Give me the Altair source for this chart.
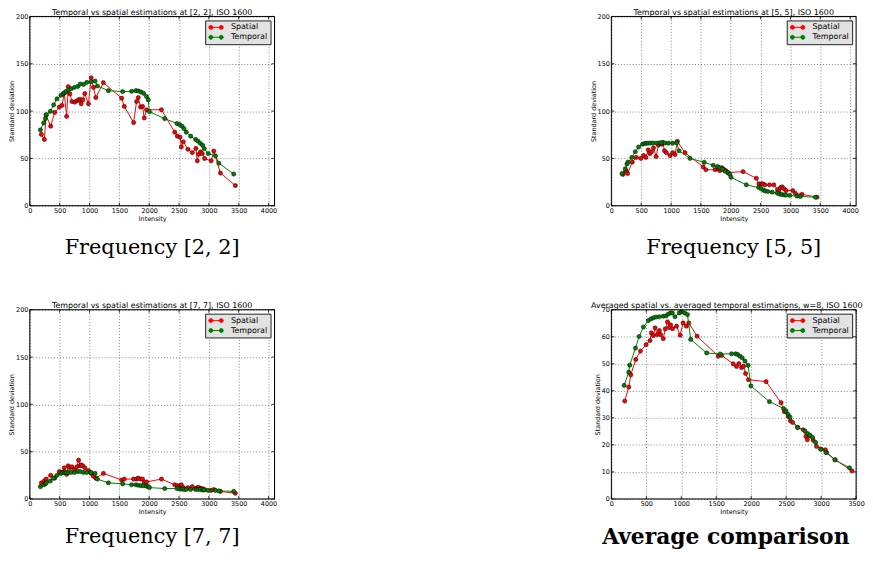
import altair as alt
import pandas as pd

# ---------------- data ----------------
# intensities of the spatial estimates (panels [2,2], [5,5], [7,7])
sp_x = [194, 244, 272, 350, 417, 494, 539, 578, 617, 644, 672, 706, 750, 789, 817,
        845, 861, 889, 922, 983, 1028, 1067, 1106, 1233, 1539, 1583, 1739, 1789, 1817,
        1856, 1889, 1917, 1956, 2206, 2428, 2472, 2517, 2539, 2572, 2650, 2722, 2783,
        2806, 2833, 2861, 2889, 2928, 3039, 3083, 3194, 3444]
sp_22 = [75.3, 70.0, 95.8, 84.0, 98.6, 104.2, 105.9, 118.8, 94.4, 125.8, 118.1, 110.1,
         109.4, 110.8, 111.8, 112.5, 107.7, 111.8, 118.5, 107.7, 135.2, 125.1, 114.3,
         130.0, 113.6, 104.9, 87.8, 110.1, 114.3, 104.2, 104.9, 92.7, 101.4, 101.4, 77.7,
         73.5, 72.5, 62.0, 67.6, 59.6, 56.1, 60.6, 47.4, 54.4, 56.8, 55.1, 49.8, 47.4,
         57.8, 34.5, 21.3]
sp_55 = [33, 37, 34, 46, 51, 50, 53, 51, 59, 55, 57, 61, 52, 64, 66, 65, 67, 58, 56, 53,
         56, 54, 68, 56, 41, 38, 38, 39, 37, 40, 38, 37, 35, 36, 29, 23, 23, 23, 22, 22,
         22, 17, 15, 19, 20, 18, 16, 16, 13, 12, 9]
sp_77 = [17, 19, 21, 25, 22, 29, 28, 33, 26, 35, 33, 34, 31, 34, 41, 35, 36, 35, 33, 30,
         27, 24, 22, 27, 20, 21, 21, 21, 22, 21, 21, 17, 18, 21, 15, 14, 14, 15, 12, 12,
         13, 11, 12, 12, 11, 11, 10, 9, 10, 8, 6]

# intensities of the temporal estimates (panels [2,2], [5,5], [7,7])
tm_x = [178, 233, 261, 278, 344, 400, 456, 522, 556, 583, 611, 650, 694, 750, 806, 845,
        900, 956, 1028, 1094, 1133, 1317, 1556, 1706, 1778, 1817, 1861, 1906, 1956, 1985,
        2005, 2261, 2467, 2511, 2550, 2583, 2622, 2695, 2778, 2817, 2856, 2895, 2922,
        2989, 3111, 3167, 3417]
tm_22 = [80.1, 87.5, 92.0, 96.2, 99.7, 106.6, 112.9, 116.7, 118.1, 119.5, 120.9, 122.3,
         123.7, 125.1, 126.1, 128.6, 128.2, 130.3, 131.0, 131.7, 126.5, 121.6, 120.6,
         120.9, 121.6, 121.3, 120.2, 118.8, 115.3, 111.8, 99.3, 92.0, 86.8, 85.7, 84.0,
         81.5, 77.7, 73.5, 70.0, 68.3, 65.9, 63.8, 60.3, 55.1, 52.6, 44.9, 33.4]
tm_55 = [34, 39, 44, 46, 51, 57, 62, 65, 65.7, 66, 66, 66.2, 66.2, 66.2, 66.4, 66.4, 66.2,
         66.1, 66.1, 66.4, 58, 50, 45.8, 42.7, 41.3, 40.3, 38.5, 36.4, 34.6, 33, 30, 22,
         19.2, 17.8, 16.4, 15.5, 15, 14.3, 13.3, 12.2, 11.8, 11.5, 11.2, 10.8, 10.1, 9.8, 9.0]
tm_77 = [13, 15, 16, 17, 19, 22, 25, 27, 28, 28, 28, 28, 28, 28, 29, 29, 28, 28, 28, 27,
         21, 17, 16, 15, 15, 14.5, 14, 14, 13.5, 13, 12, 11, 11, 10.5, 10.5, 10, 10, 10,
         10, 10, 10, 9.5, 9.5, 9, 9, 8.5, 8]

# averaged comparison (w=8)
avg_sp_x = [191, 249, 278, 349, 416, 497, 553, 572, 601, 625, 657, 686, 705, 742, 771,
            803, 828, 847, 875, 932, 984, 1026, 1073, 1107, 1226, 1529, 1577, 1743, 1790,
            1823, 1862, 1890, 1919, 1961, 2213, 2427, 2474, 2531, 2560, 2593, 2664, 2745,
            2783, 2802, 2845, 2887, 2935, 2996, 3059, 3078, 3201, 3440]
avg_sp = [36.2, 41.4, 45.9, 51.6, 54.7, 57.1, 58.6, 61.4, 60.4, 63.3, 60.8, 62.3, 60.8,
          59.3, 62.9, 65.5, 63.4, 64.4, 63.0, 63.9, 60.6, 65.1, 63.9, 65.1, 60.2, 52.8,
          53.1, 50.0, 49.0, 50.1, 48.6, 49.1, 46.4, 44.1, 43.4, 35.6, 32.3, 30.5, 28.9,
          28.3, 26.5, 25.6, 23.1, 21.9, 23.3, 21.7, 19.4, 18.4, 18.2, 17.2, 14.5, 10.4]
avg_tm_x = [182, 249, 263, 345, 397, 459, 529, 567, 601, 638, 686, 742, 781, 814, 848,
            872, 910, 972, 1002, 1049, 1088, 1135, 1363, 1558, 1719, 1777, 1809, 1838,
            1871, 1910, 1956, 1995, 2261, 2464, 2498, 2527, 2555, 2664, 2769, 2807, 2840,
            2878, 2921, 2996, 3068, 3196, 3405]
avg_tm = [42.0, 46.9, 49.5, 55.8, 60.1, 63.6, 66.0, 66.6, 67.0, 67.3, 67.4, 67.6, 67.7,
          68.4, 68.8, 68.8, 67.4, 68.8, 69.2, 68.8, 68.2, 59.0, 54.0, 53.6, 53.7, 53.7,
          53.4, 52.8, 52.2, 51.0, 49.4, 41.8, 36.0, 33.4, 32.6, 31.3, 30.3, 26.4, 25.1,
          24.2, 23.5, 22.7, 20.9, 18.4, 17.2, 14.5, 11.5]

series_names = ["Spatial", "Temporal"]
series_colors = ["#ff0000", "#008000"]

xt_full = [0, 500, 1000, 1500, 2000, 2500, 3000, 3500, 4000]
yt_full = [0, 50, 100, 150, 200]
xt_avg = [0, 500, 1000, 1500, 2000, 2500, 3000, 3500]
yt_avg = [0, 10, 20, 30, 40, 50, 60, 70]

titles = ["Temporal vs spatial estimations at [2, 2], ISO 1600",
          "Temporal vs spatial estimations at [5, 5], ISO 1600",
          "Temporal vs spatial estimations at [7, 7], ISO 1600",
          "Averaged spatial vs. averaged temporal estimations, w=8, ISO 1600"]
captions = ["Frequency [2, 2]", "Frequency [5, 5]", "Frequency [7, 7]", "Average comparison"]

# ---------------- chart ----------------
W, H = 247, 191
SANS = "DejaVu Sans"
SERIF = "DejaVu Serif"
TL = 3  # inside tick length

legend_symbol = ("M-2,0L2,0"
                 "M-2.07,0a0.57,0.57 0 1,0 1.14,0a0.57,0.57 0 1,0 -1.14,0"
                 "M0.93,0a0.57,0.57 0 1,0 1.14,0a0.57,0.57 0 1,0 -1.14,0")


def make_panel(sx, sy, tx, ty, title, caption, xmax, ymax, xt, yt, cap_weight,
               cap_size, cap_dx, cap_gap, title_dx):
    df_s = pd.DataFrame({"x": sx, "y": sy, "series": "Spatial"})
    df_t = pd.DataFrame({"x": tx, "y": ty, "series": "Temporal"})
    xs = alt.Scale(domain=[0, xmax], nice=False, zero=False)
    ys = alt.Scale(domain=[0, ymax], nice=False, zero=False)
    cs = alt.Scale(domain=series_names, range=series_colors)
    leg = alt.Legend(title=None, orient="top-right", offset=4, fillColor="#e2e2e2",
                     strokeColor="#222", padding=3,
                     labelFont=SANS, labelFontSize=8, labelColor="black",
                     symbolType=legend_symbol, symbolSize=49, symbolStrokeWidth=1,
                     symbolOffset=4, labelOffset=11, rowPadding=2)
    x_axis = alt.Axis(orient="bottom", values=xt, format="d", grid=True, ticks=False,
                      domain=False, title="Intensity", labelFont=SANS, labelFontSize=6.5,
                      labelColor="black", labelPadding=2, titleFont=SANS,
                      titleFontSize=6.5, titleFontWeight="normal", titleColor="black",
                      titlePadding=1, gridColor="#000", gridDash=[1, 2], gridWidth=0.5,
                      labelFlush=False)
    y_axis = alt.Axis(orient="left", values=yt, format="d", grid=True, ticks=False,
                      domain=False, title="Standard deviation", labelFont=SANS,
                      labelFontSize=6.5, labelColor="black", labelPadding=2,
                      titleFont=SANS, titleFontSize=6.5, titleFontWeight="normal",
                      titleColor="black", titlePadding=1, gridColor="#000",
                      gridDash=[1, 2], gridWidth=0.5, labelFlush=False)

    X = alt.X("x:Q", scale=xs, axis=x_axis, title="Intensity")
    Y = alt.Y("y:Q", scale=ys, axis=y_axis, title="Standard deviation")

    def series_layers(df):
        line = alt.Chart(df).mark_line(strokeWidth=1).encode(
            x=X, y=Y, stroke=alt.Stroke("series:N", scale=cs, legend=leg))
        pts = alt.Chart(df).mark_circle(size=18, opacity=1, stroke="black",
                                        strokeWidth=0.5).encode(
            x=X, y=Y, fill=alt.Fill("series:N", scale=cs, legend=leg))
        return [line, pts]

    xt_df = pd.DataFrame({"x": xt})
    yt_df = pd.DataFrame({"y": yt})
    tick_style = dict(color="black", strokeWidth=0.8)
    bottom_ticks = alt.Chart(xt_df).mark_rule(**tick_style).encode(
        x=X, y=alt.value(H - TL), y2=alt.value(H))
    top_ticks = alt.Chart(xt_df).mark_rule(**tick_style).encode(
        x=X, y=alt.value(0), y2=alt.value(TL))
    left_ticks = alt.Chart(yt_df).mark_rule(**tick_style).encode(
        y=Y, x=alt.value(0), x2=alt.value(TL))
    right_ticks = alt.Chart(yt_df).mark_rule(**tick_style).encode(
        y=Y, x=alt.value(W - TL), x2=alt.value(W))
    frame = alt.Chart(pd.DataFrame({"f": [0]})).mark_rect(
        fill=None, stroke="black", strokeWidth=1).encode(
        x=alt.value(0), x2=alt.value(W), y=alt.value(0), y2=alt.value(H))
    cap = alt.Chart(pd.DataFrame({"caption": [caption]})).mark_text(
        font=SERIF, fontSize=cap_size, fontWeight=cap_weight, color="black",
        baseline="middle", align="center", dx=cap_dx).encode(
        text="caption:N", x=alt.value(W / 2), y=alt.value(H + cap_gap))

    layers = (series_layers(df_s) + series_layers(df_t)
              + [bottom_ticks, top_ticks, left_ticks, right_ticks, frame, cap])
    return alt.layer(*layers).properties(
        width=W, height=H,
        title=alt.Title(title, font=SANS, fontSize=8, fontWeight="normal",
                        color="black", offset=-3.5, anchor="middle", dx=title_dx))


p1 = make_panel(sp_x, sp_22, tm_x, tm_22, titles[0], captions[0], 4100, 200,
                xt_full, yt_full, "normal", 21, 0, 43, 0)
p2 = make_panel(sp_x, sp_55, tm_x, tm_55, titles[1], captions[1], 4100, 200,
                xt_full, yt_full, "normal", 21, 0, 43, 0)
p3 = make_panel(sp_x, sp_77, tm_x, tm_77, titles[2], captions[2], 4100, 200,
                xt_full, yt_full, "normal", 21, 0, 38, 0)
p4 = make_panel(avg_sp_x, avg_sp, avg_tm_x, avg_tm, titles[3], captions[3], 3500, 70,
                xt_avg, yt_avg, "bold", 22, -8, 38, -7)

chart = alt.concat(p1, p2, p3, p4, columns=2, spacing={"row": 105, "column": 340},
                   bounds="flush").resolve_scale(
    fill="independent", stroke="independent"
).resolve_legend(
    fill="independent", stroke="independent"
).properties(
    padding={"left": 0, "top": -2, "right": 0, "bottom": 0}
).configure_view(stroke=None).configure(background="white")

chart.save("out.html", embed_options={"renderer": "svg", "actions": False})
